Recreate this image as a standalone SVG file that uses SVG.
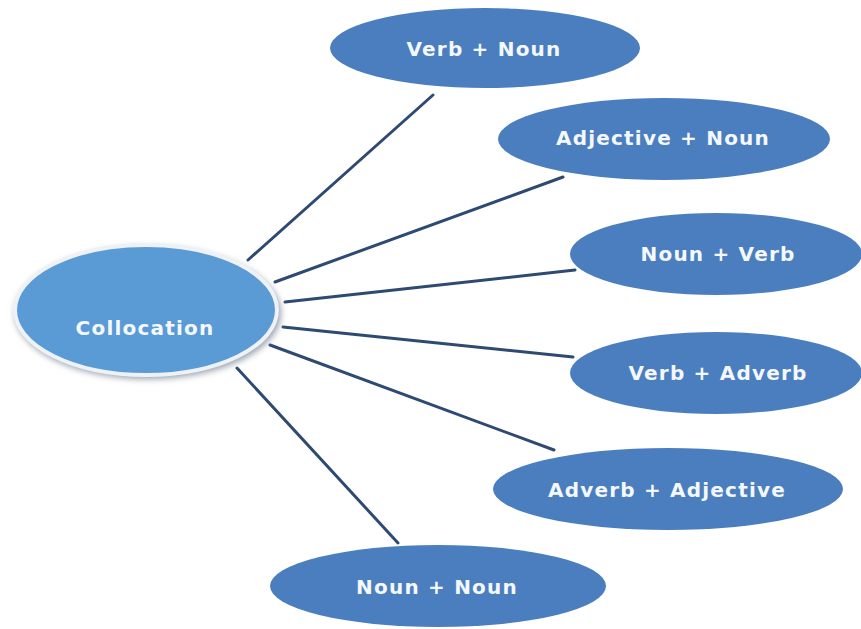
<svg xmlns="http://www.w3.org/2000/svg" width="861" height="629" viewBox="0 0 861 629">
<defs>
<style>
.n{fill:#4a7ebf}
.t{font-family:"DejaVu Sans","Open Sans",sans-serif;font-weight:bold;font-size:20px;letter-spacing:1.2px;fill:#f4f8fc;text-anchor:middle;dominant-baseline:central}
.c{stroke:#2e4a73;stroke-width:3;fill:none;stroke-linecap:round}
</style>
<filter id="sh" x="-20%" y="-20%" width="140%" height="140%">
<feGaussianBlur stdDeviation="3"/>
</filter>
</defs>
<rect width="861" height="629" fill="#ffffff"/>
<g id="connectors">
<line class="c" x1="248" y1="260" x2="433" y2="95"/>
<line class="c" x1="275" y1="282" x2="563" y2="177"/>
<line class="c" x1="285" y1="302" x2="575" y2="270"/>
<line class="c" x1="283" y1="327" x2="573" y2="357"/>
<line class="c" x1="270" y1="345" x2="554" y2="450"/>
<line class="c" x1="237" y1="368" x2="398" y2="543"/>
</g>
<g id="collocation">
<ellipse cx="148" cy="313" rx="133" ry="66" fill="#9aa3ad" filter="url(#sh)"/>
<ellipse cx="146" cy="310" rx="131" ry="65" fill="#5b9bd5" stroke="#eef2f7" stroke-width="4"/>
<text class="t" x="145" y="328">Collocation</text>
</g>
<g id="verb-noun">
<ellipse class="n" cx="485" cy="48" rx="155" ry="40"/>
<text class="t" x="484" y="49">Verb + Noun</text>
</g>
<g id="adjective-noun">
<ellipse class="n" cx="664" cy="139" rx="166" ry="41"/>
<text class="t" x="663" y="138">Adjective + Noun</text>
</g>
<g id="noun-verb">
<ellipse class="n" cx="716" cy="254" rx="146" ry="41"/>
<text class="t" x="718" y="254">Noun + Verb</text>
</g>
<g id="verb-adverb">
<ellipse class="n" cx="716" cy="373" rx="146" ry="41"/>
<text class="t" x="718" y="373">Verb + Adverb</text>
</g>
<g id="adverb-adjective">
<ellipse class="n" cx="668" cy="489" rx="175" ry="41"/>
<text class="t" x="667" y="490">Adverb + Adjective</text>
</g>
<g id="noun-noun">
<ellipse class="n" cx="438" cy="586" rx="168" ry="41"/>
<text class="t" x="437" y="587">Noun + Noun</text>
</g>
</svg>
